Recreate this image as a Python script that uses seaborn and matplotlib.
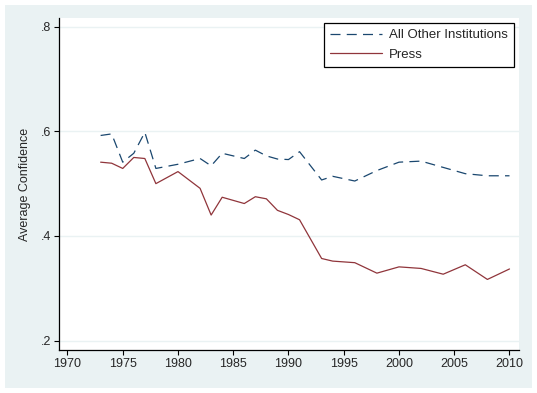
import numpy as np
import pandas as pd
import matplotlib
matplotlib.use('Agg')
import matplotlib.pyplot as plt
from matplotlib.patches import Rectangle
import seaborn as sns

years = [1973, 1974, 1975, 1976, 1977, 1978, 1980, 1982, 1983, 1984, 1986,
         1987, 1988, 1989, 1990, 1991, 1993, 1994, 1996, 1998, 2000, 2002,
         2004, 2006, 2008, 2010]
other = [0.592, 0.595, 0.541, 0.558, 0.598, 0.529, 0.537, 0.548, 0.534, 0.558,
         0.548, 0.564, 0.553, 0.547, 0.546, 0.561, 0.507, 0.514, 0.505, 0.525,
         0.541, 0.543, 0.531, 0.519, 0.515, 0.515]
press = [0.541, 0.539, 0.529, 0.550, 0.548, 0.500, 0.523, 0.491, 0.440, 0.474,
         0.462, 0.475, 0.471, 0.449, 0.441, 0.431, 0.357, 0.352, 0.349, 0.329,
         0.341, 0.338, 0.327, 0.345, 0.317, 0.337]
series_names = ['All Other Institutions', 'Press']
x_ticks = [1970, 1975, 1980, 1985, 1990, 1995, 2000, 2005, 2010]
y_ticks = [0.2, 0.4, 0.6, 0.8]
y_ticklabels = ['.2', '.4', '.6', '.8']

df = pd.DataFrame({
    'year': years * 2,
    'conf': other + press,
    'series': [series_names[0]] * len(years) + [series_names[1]] * len(years),
})

sns.set_style('ticks')
plt.rcParams['font.family'] = ['Liberation Sans', 'DejaVu Sans']
plt.rcParams['font.size'] = 9

bg = '#EAF2F3'
fig = plt.figure(figsize=(5.37, 3.93), dpi=100)
fig.patch.set_facecolor('white')
fig.patches.append(Rectangle((5/537, 5/393), 527/537, 383/393,
                             transform=fig.transFigure, facecolor=bg,
                             edgecolor='none', zorder=-5))

ax = fig.add_axes([59.3/537, 43/393, (519-59.3)/537, 332/393])
ax.set_facecolor('white')
ax.set_zorder(2)

sns.lineplot(data=df, x='year', y='conf', hue='series', style='series',
             palette={series_names[0]: '#1A476F', series_names[1]: '#90353B'},
             dashes={series_names[0]: (8, 5), series_names[1]: ''},
             linewidth=0.9, legend=False, ax=ax)

ax.set_xlim(1969.26, 2010.86)
ax.set_ylim(0.1822, 0.8164)
ax.set_xticks(x_ticks)
ax.set_yticks(y_ticks)
ax.set_yticklabels(y_ticklabels)
ax.set_xlabel('')
ax.set_ylabel('Average Confidence', fontsize=9, labelpad=7)

for y in y_ticks:
    ax.axhline(y, color=bg, linewidth=1.0, zorder=0)

for s in ['top', 'right']:
    ax.spines[s].set_visible(False)
for s in ['left', 'bottom']:
    ax.spines[s].set_color('black')
    ax.spines[s].set_linewidth(0.9)
ax.tick_params(axis='both', length=3.6, width=0.8, color='black',
               labelsize=9, pad=2.5)

handles = ax.lines[:2]
leg = ax.legend(handles, series_names, loc='upper right',
                bbox_to_anchor=(0.9885, 0.984), borderaxespad=0,
                frameon=True, fancybox=False, edgecolor='black',
                framealpha=1, handlelength=3.9, handletextpad=0.55,
                borderpad=0.45, labelspacing=0.55, fontsize=9.5)
leg.get_frame().set_linewidth(0.9)

fig.savefig('out.png', dpi=100)
